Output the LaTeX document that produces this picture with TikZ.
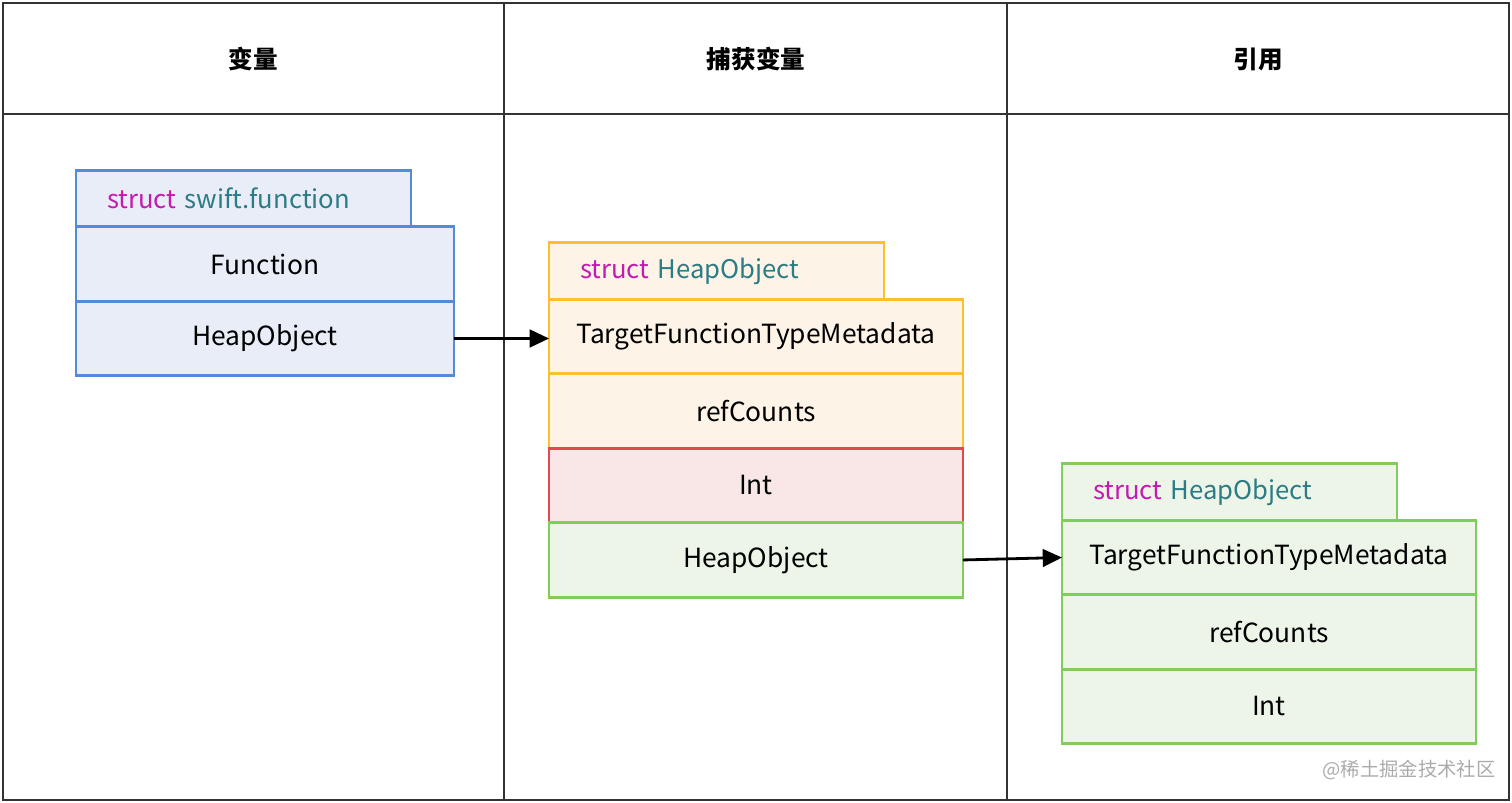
\documentclass[tikz,border=0pt]{standalone}
\usepackage{fontspec}
\setmainfont{Noto Sans CJK SC}
\usetikzlibrary{arrows.meta, positioning, calc}

\definecolor{kwpink}{RGB}{196,26,176}
\definecolor{tyteal}{RGB}{44,124,134}
\definecolor{lineblue}{RGB}{84,138,220}
\definecolor{fillblue}{RGB}{233,237,248}
\definecolor{lineorange}{RGB}{250,192,46}
\definecolor{fillorange}{RGB}{254,243,231}
\definecolor{linered}{RGB}{226,72,76}
\definecolor{fillred}{RGB}{249,231,231}
\definecolor{linegreen}{RGB}{130,204,92}
\definecolor{fillgreen}{RGB}{237,245,232}
\definecolor{framegray}{RGB}{51,51,51}

\newcommand{\kw}[1]{\textcolor{kwpink}{#1}}
\newcommand{\ty}[1]{\textcolor{tyteal}{#1}}

\begin{document}
\begin{tikzpicture}[x=0.02cm, y=-0.02cm,
    frame/.style={draw=framegray, line width=1.1pt},
    head/.style={font=\fontsize{14}{17}\selectfont\bfseries},
    field/.style={draw, line width=1.6pt, minimum width=8.28cm, minimum height=1.49cm, outer sep=0pt, inner sep=0pt, font=\fontsize{15}{18}\selectfont},
    tab/.style={draw, line width=1.6pt, minimum height=1.13cm, text width=5.46cm, inner xsep=0.62cm, inner ysep=0pt, align=left, outer sep=0pt, font=\fontsize{14.6}{18}\selectfont},
    bluebox/.style={draw=lineblue, fill=fillblue},
    orangebox/.style={draw=lineorange, fill=fillorange},
    redbox/.style={draw=linered, fill=fillred},
    greenbox/.style={draw=linegreen, fill=fillgreen},
    ptr/.style={line width=1.6pt, -{Triangle[length=11pt, width=10pt]}}]
        \useasboundingbox (0,0) rectangle (1512,802);

        % table frame
        \draw[frame] (3,3) rectangle (1509,800);
        \draw[frame] (3,114) -- (1509,114);
        \draw[frame] (504,3) -- (504,800);
        \draw[frame] (1007,3) -- (1007,800);
        \node[head] at (253,59) (h1) {变量};
        \node[head] at (756,59) (h2) {捕获变量};
        \node[head] at (1258,59) (h3) {引用};

        % swift.function
        \node[field, bluebox, minimum width=7.56cm] at (265,264) (fn1) {Function};
        \node[field, bluebox, minimum width=7.56cm, below=0pt of fn1] (ho1) {HeapObject};
        \node[tab, bluebox, anchor=south west] at (fn1.north west) (tab1) {\kw{struct} \ty{swift.function}};

        % captured box
        \node[field, orangebox] at (756,336.5) (md2) {TargetFunctionTypeMetadata};
        \node[field, orangebox, below=0pt of md2] (rc2) {refCounts};
        \node[field, redbox, below=0pt of rc2] (int2) {Int};
        \node[field, greenbox, below=0pt of int2] (ho2) {HeapObject};
        \node[tab, orangebox, anchor=south west] at (md2.north west) (tab2) {\kw{struct} \ty{HeapObject}};
        \draw[orangebox] (md2.north west) -- (md2.north east);

        % reference box
        \node[field, greenbox] at (1269,557.5) (md3) {TargetFunctionTypeMetadata};
        \node[field, greenbox, below=0pt of md3] (rc3) {refCounts};
        \node[field, greenbox, below=0pt of rc3] (int3) {Int};
        \node[tab, greenbox, anchor=south west] at (md3.north west) (tab3) {\kw{struct} \ty{HeapObject}};

        \draw[ptr] (ho1.east) -- (ho1.east -| md2.west);
        \draw[ptr] (ho2.east) -- (md3.west);

        \node[text=black!33, font=\fontsize{11}{13}\selectfont] at (1409,770) (mark) {@稀土掘金技术社区};
\end{tikzpicture}
\end{document}
